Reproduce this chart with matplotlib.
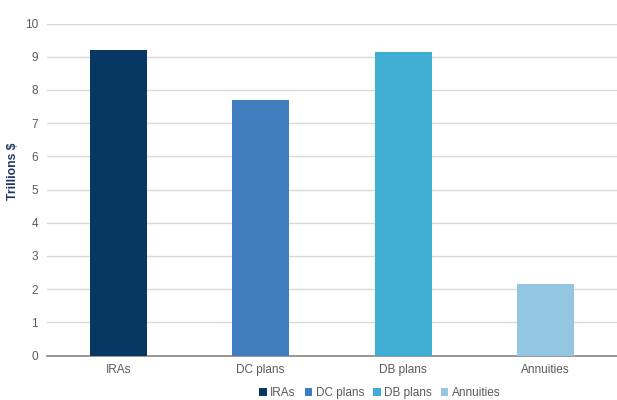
import matplotlib.pyplot as plt
from matplotlib.patches import Patch

plt.rcParams['font.family'] = ['Liberation Sans', 'DejaVu Sans']

categories = ["IRAs", "DC plans", "DB plans", "Annuities"]
values = [9.19, 7.70, 9.14, 2.15]
colors = ["#073763", "#3f7dbf", "#40aed2", "#93c6e0"]
yticks = list(range(0, 11))

fig = plt.figure(figsize=(6.17, 4.0), dpi=100)
ax = fig.add_axes([0.076, 0.111, 0.924, 0.83])

x = list(range(len(categories)))
ax.bar(x, values, width=0.4, color=colors, zorder=3)

ax.set_xlim(-0.5, 3.5)
ax.set_ylim(0, 10)
ax.set_yticks(yticks)
ax.set_xticks(x)
ax.set_xticklabels(categories)
ax.grid(axis='y', color='#d9d9d9', linewidth=1, zorder=0)
for s in ['top', 'right', 'left']:
    ax.spines[s].set_visible(False)
ax.spines['bottom'].set_color('#868686')
ax.spines['bottom'].set_linewidth(1.2)
ax.tick_params(axis='both', length=0, labelsize=8.5, labelcolor='#595959')
ax.tick_params(axis='y', pad=6.5)
ax.tick_params(axis='x', pad=6)

# label right edge sits just left of the tick numbers
ax.set_ylabel("Trillions $", fontsize=8.8, fontweight='bold', color='#1f3864')
ax.yaxis.set_label_coords(-0.049, 0.556)

handles = [Patch(facecolor=c, edgecolor='none') for c in colors]
fig.legend(handles, categories, loc='center', bbox_to_anchor=(380 / 617, 1 - 393 / 400),
           ncol=4, frameon=False, fontsize=8.5, handlelength=0.6, handleheight=0.6,
           handletextpad=0.3, columnspacing=0.8, labelcolor='#595959')

fig.savefig("out.png", dpi=100)
